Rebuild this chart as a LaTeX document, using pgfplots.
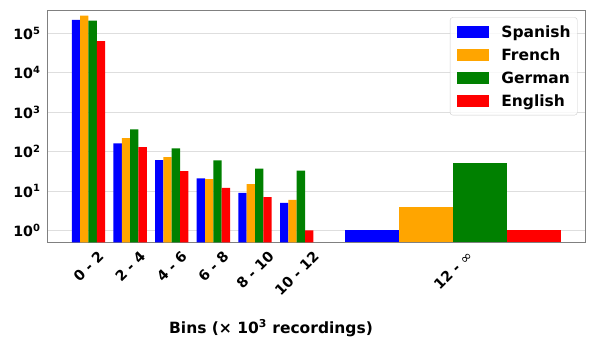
\documentclass[border=0pt]{standalone}
\usepackage{fontspec}
\setmainfont{DejaVu Sans}
\usepackage{graphicx}
\usepackage{pgfplots}
\pgfplotsset{compat=1.18}
\definecolor{cSpa}{HTML}{0000FF}
\definecolor{cFre}{HTML}{FFA500}
\definecolor{cGer}{HTML}{008000}
\definecolor{cEng}{HTML}{FF0000}
\pgfplotsset{patchleg/.style={legend image code/.code={\fill[##1, fill opacity=1, sharp corners] (0pt,-5.85pt) rectangle (32pt,5.85pt);}}}
\newcommand{\xl}[1]{\rotatebox{45}{#1}}
\begin{document}
\begin{tikzpicture}
\begin{axis}[name=ax, scale only axis, width=538.4pt, height=232.3pt,
  ymode=log, log origin y=infty, ymin=0.5, ymax=390000,
  xmin=-0.9875, xmax=11.9375,
  axis line style={draw=black!50, line width=0.8pt},
  ytick={1,10,100,1000,10000,100000},
  yticklabels={10\textsuperscript{0},10\textsuperscript{1},10\textsuperscript{2},10\textsuperscript{3},10\textsuperscript{4},10\textsuperscript{5}},
  yminorticks=false, major tick length=0pt,
  ymajorgrids, grid style={draw=black!13, line width=0.8pt},
  xtick={0,1,2,3,4,5,8.75},
  xticklabels={\xl{0 - 2},\xl{2 - 4},\xl{4 - 6},\xl{6 - 8},\xl{8 - 10},\xl{10 - 12},\xl{12 - {\mdseries ∞}}},
  xticklabel style={anchor=north, inner sep=0pt, font=\fontsize{14.2}{17}\selectfont\bfseries},
  xticklabel shift=7.5pt,
  yticklabel style={anchor=east, inner sep=0pt, font=\fontsize{14.2}{17}\selectfont\bfseries},
  yticklabel shift=6.6pt,
  xlabel={Bins (× 10\textsuperscript{3} recordings)},
  xlabel style={at={(axis description cs:0.4155,0)}, anchor=base, inner sep=0pt, yshift=-90.7pt, font=\fontsize{15.5}{18}\selectfont\bfseries},
  legend style={at={(1,1)}, anchor=north east, xshift=-8.3pt, yshift=-7.3pt,
    draw=black!20, rounded corners=2.5pt, fill=white, fill opacity=0.8, text opacity=1,
    inner xsep=6.5pt, inner ysep=8.3pt, row sep=11.4pt, column sep=12.7pt,
    font=\fontsize{15.5}{18}\selectfont\bfseries,
    nodes={inner sep=0pt, text height=11.3pt, text depth=0pt}},
  legend cell align=left,
]
% small bins
\addplot[ybar, patchleg, bar width=0.2, bar shift=-0.3, fill=cSpa, draw=none] coordinates {(0,218000) (1,162) (2,61) (3,21) (4,9) (5,5)};
\addlegendentry{Spanish}
\addplot[ybar, patchleg, bar width=0.2, bar shift=-0.1, fill=cFre, draw=none] coordinates {(0,280000) (1,220) (2,72) (3,20) (4,15) (5,6)};
\addlegendentry{French}
\addplot[ybar, patchleg, bar width=0.2, bar shift=0.1, fill=cGer, draw=none] coordinates {(0,210000) (1,365) (2,120) (3,60) (4,37) (5,33)};
\addlegendentry{German}
\addplot[ybar, patchleg, bar width=0.2, bar shift=0.3, fill=cEng, draw=none] coordinates {(0,63500) (1,130) (2,32) (3,12) (4,7) (5,1)};
\addlegendentry{English}
% 12 - inf bin
\addplot[ybar, forget plot, bar width=1.3, bar shift=-1.95, fill=cSpa, draw=none] coordinates {(8.75,1)};
\addplot[ybar, forget plot, bar width=1.3, bar shift=-0.65, fill=cFre, draw=none] coordinates {(8.75,4)};
\addplot[ybar, forget plot, bar width=1.3, bar shift=0.65, fill=cGer, draw=none] coordinates {(8.75,51)};
\addplot[ybar, forget plot, bar width=1.3, bar shift=1.95, fill=cEng, draw=none] coordinates {(8.75,1)};
\end{axis}
\path ([shift={(-47.3pt,-95.7pt)}]ax.south west) rectangle ([shift={(6.3pt,10pt)}]ax.north east);
\end{tikzpicture}
\end{document}
